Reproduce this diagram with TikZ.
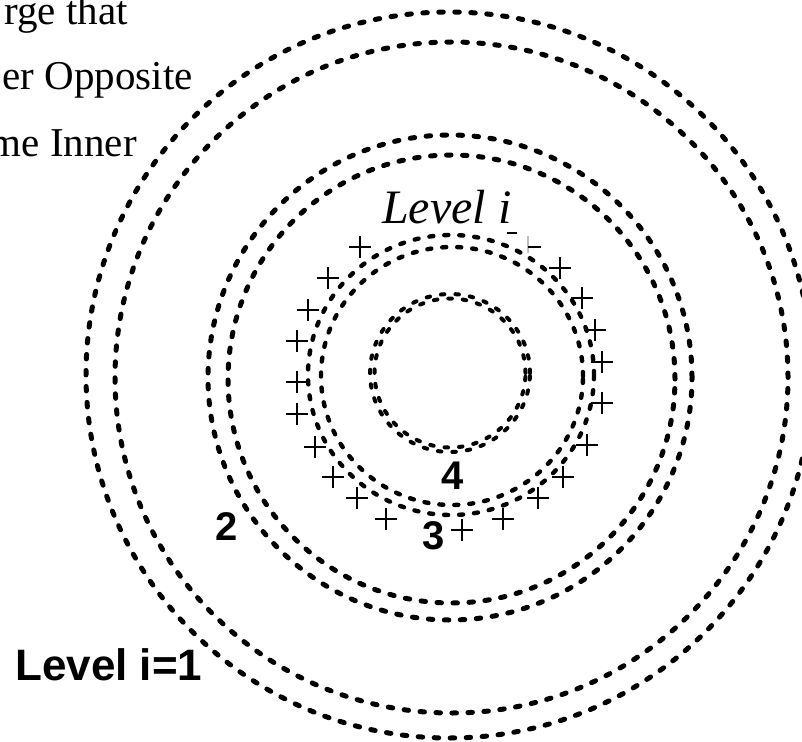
\documentclass[tikz,border=0pt]{standalone}
\usepackage{fontspec}
\setmainfont{Liberation Serif}
\setsansfont{Liberation Sans}
\begin{document}
\begin{tikzpicture}[x=1pt,y=-1pt,
  ring/.style={line width=5pt, dash pattern=on 4.5pt off 11.5pt, line cap=round},
  ringm/.style={line width=4.4pt, dash pattern=on 4pt off 11pt, line cap=round},
  ringi/.style={line width=4pt, dash pattern=on 3.5pt off 11pt, line cap=round},
  pm/.style={line width=1.5pt},
  bodytxt/.style={font=\fontsize{41}{49}\selectfont, inner sep=0pt, anchor=base east},
  lbl/.style={font=\sffamily\bfseries\fontsize{40}{48}\selectfont, inner sep=0pt},
]
\clip (0,0) rectangle (802,741);
\fill[white] (0,0) rectangle (802,741);
% pair 1
\draw[ring] (449,375) ellipse [x radius=363pt, y radius=363pt];
\draw[ring] (451.5,377.5) ellipse [x radius=336.5pt, y radius=335.5pt];
% pair 2
\draw[ring] (450,377.5) ellipse [x radius=242pt, y radius=242.5pt];
\draw[ring] (451.5,379) ellipse [x radius=223.5pt, y radius=224pt];
% pair 3
\draw[ringm] (451,375) ellipse [x radius=143pt, y radius=140pt];
\draw[ringm] (452,376) ellipse [x radius=131pt, y radius=129pt];
% pair 4
\draw[ringi] (450,373) ellipse [x radius=80pt, y radius=79pt];
\draw[ringi] (450,373) ellipse [x radius=75.5pt, y radius=74.5pt];
% plus charges
\foreach \x/\y in {360/247, 328/278, 308/310, 297/341, 297/382, 297/414, 315/447, 333/477, 357/498, 386/519,
                   462/530, 503/519, 538/498,
                   563/477, 587/445, 602/403, 602/362, 595/330, 582/298, 560/268}
  \draw[pm] ({\x-11},\y) -- ({\x+11},\y) (\x,{\y-11}) -- (\x,{\y+11});
\draw[pm] (507,233) -- (517,233);
\draw[pm, gray!50] (528,236) -- (528,253);
\draw[pm] (528,247) -- (541,247);
% texts
\node[bodytxt] (t1) at (128,25) {rge that};
\node[bodytxt] (t2) at (193,90) {er Opposite};
\node[bodytxt] (t3) at (137,156) {me Inner};
\node[font=\itshape\fontsize{48}{56}\selectfont, inner sep=0pt, anchor=base west] (lvl) at (382,223) {Level i};
\node[lbl, font=\sffamily\bfseries\fontsize{44}{52}\selectfont, anchor=base west] (l1) at (15,680) {Level i=1};
\node[lbl] (n2) at (227,527) {2};
\node[lbl] (n3) at (434,536) {3};
\node[lbl] (n4) at (453,476) {4};
\end{tikzpicture}
\end{document}
